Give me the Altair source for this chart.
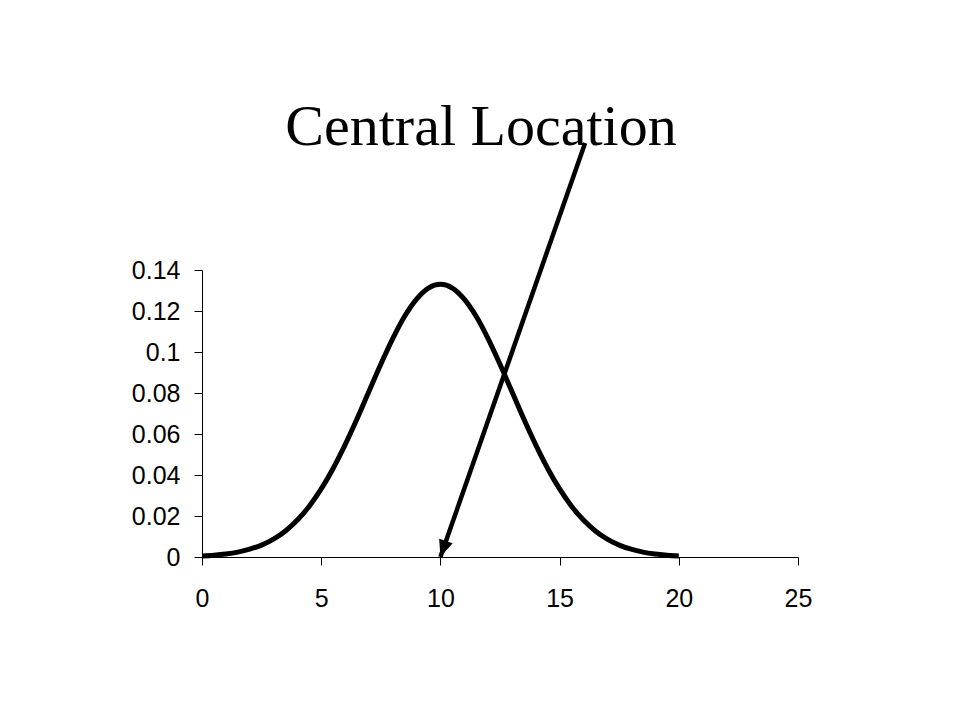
import altair as alt
import pandas as pd

# Curve values (x, density)
curve_x = [0, 0.5, 1, 1.5, 2, 2.5, 3, 3.5, 4, 4.5, 5, 5.5, 6, 6.5, 7, 7.5, 8, 8.5, 9, 9.5,
           10, 10.5, 11, 11.5, 12, 12.5, 13, 13.5, 14, 14.5, 15, 15.5, 16, 16.5, 17, 17.5,
           18, 18.5, 19, 19.5, 20]
curve_y = [0.0005, 0.0009, 0.0015, 0.0024, 0.0038, 0.0058, 0.0087, 0.0127, 0.0180, 0.0248,
           0.0332, 0.0432, 0.0547, 0.0673, 0.0807, 0.0940, 0.1065, 0.1174, 0.1258, 0.1312,
           0.1330, 0.1312, 0.1258, 0.1174, 0.1065, 0.0940, 0.0807, 0.0673, 0.0547, 0.0432,
           0.0332, 0.0248, 0.0180, 0.0127, 0.0087, 0.0058, 0.0038, 0.0024, 0.0015, 0.0009,
           0.0005]

# Arrow annotation: from start (near the title) to tip at the mean
arrow_x = [16.07, 10]
arrow_y = [0.202, 0]
arrow_angle = [19]

x_ticks = [0, 5, 10, 15, 20, 25]
y_ticks = [0, 0.02, 0.04, 0.06, 0.08, 0.1, 0.12, 0.14]

title_text = ["Central Location"]

curve_df = pd.DataFrame({"x": curve_x, "y": curve_y})
arrow_df = pd.DataFrame({"x": arrow_x, "y": arrow_y, "order": [0, 1]})
tip_df = pd.DataFrame({"x": [arrow_x[-1]], "y": [arrow_y[-1]], "angle": arrow_angle})
title_df = pd.DataFrame({"t": title_text})

xscale = alt.Scale(domain=[0, 25], nice=False, zero=False)
yscale = alt.Scale(domain=[0, 0.14], nice=False)

x_axis = alt.Axis(values=x_ticks, title=None, grid=False, domainColor="black",
                  tickColor="black", tickSize=8, labelFont="Liberation Sans",
                  labelFontSize=25, labelColor="black", labelPadding=21,
                  domainWidth=1, tickWidth=1, labelFlush=False)
y_axis = alt.Axis(values=y_ticks, title=None, grid=False, domainColor="black",
                  tickColor="black", tickSize=8, labelFont="Liberation Sans",
                  labelFontSize=25, labelColor="black", labelPadding=14,
                  domainWidth=1, tickWidth=1, labelFlush=False,
                  labelExpr="datum.value == 0 ? '0' : format(datum.value, '.2~f')")

curve = alt.Chart(curve_df).mark_line(
    color="black", strokeWidth=5, interpolate="monotone"
).encode(
    x=alt.X("x:Q", scale=xscale, axis=x_axis),
    y=alt.Y("y:Q", scale=yscale, axis=y_axis),
)

shaft = alt.Chart(arrow_df).mark_line(color="black", strokeWidth=4.5).encode(
    x=alt.X("x:Q", scale=xscale),
    y=alt.Y("y:Q", scale=yscale),
    order="order:Q",
)

tip = alt.Chart(tip_df).mark_point(
    shape="M0,0 L-0.42,-1 L0.42,-1 Z", filled=True, color="black", size=1150, opacity=1
).encode(
    x=alt.X("x:Q", scale=xscale),
    y=alt.Y("y:Q", scale=yscale),
    angle=alt.Angle("angle:Q", scale=None),
)

title = alt.Chart(title_df).mark_text(
    font="Liberation Serif", fontSize=58, color="black", align="center",
    baseline="alphabetic"
).encode(
    text="t:N",
    x=alt.value(279),
    y=alt.value(-125),
)

chart = alt.layer(curve, shaft, tip, title).properties(
    width=596,
    height=287,
    autosize=alt.AutoSizeParams(type="none"),
    padding={"left": 194, "top": 262, "right": 150, "bottom": 150},
).configure(background="white").configure_view(stroke=None)

chart.save("out.html", embed_options={"renderer": "svg", "actions": False})
